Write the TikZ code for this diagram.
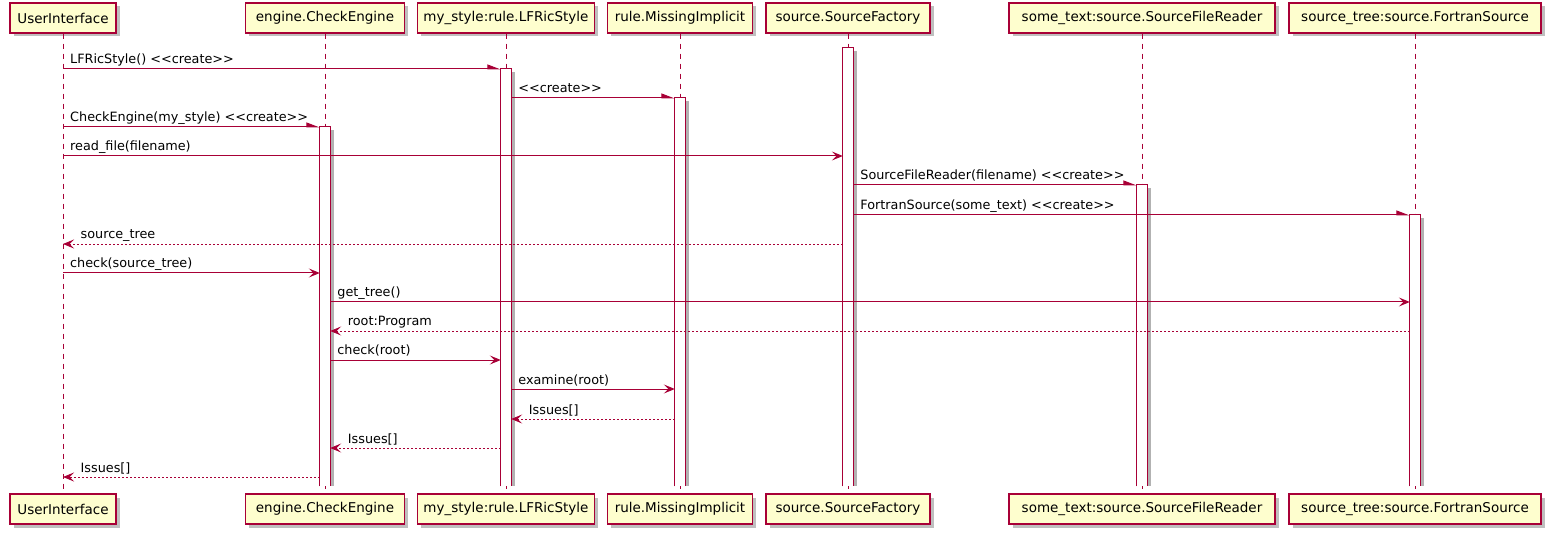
\documentclass[tikz,border=0pt]{standalone}
\usepackage{fontspec}
\setmainfont{DejaVu Sans}[Ligatures=TeXOff]
\usetikzlibrary{shadows,arrows.meta}
\definecolor{umlred}{HTML}{A80036}
\definecolor{umlfill}{HTML}{FEFECE}

\tikzset{
  participant/.style={draw=umlred, fill=umlfill, line width=1.2pt,
    minimum height=30pt, inner sep=0pt,
    font=\fontsize{13.5}{15}\selectfont,
    drop shadow={shadow xshift=3.5pt, shadow yshift=-3.5pt, opacity=.25, fill=black}},
  lifeline/.style={draw=umlred, line width=0.9pt, dash pattern=on 5pt off 5pt},
  actbar/.style={fill=white, draw=none, minimum width=10pt, inner sep=0pt, anchor=north},
  barline/.style={draw=umlred, line width=1pt},
  barshadow/.style={fill=black!30},
  call/.style={draw=umlred, line width=1pt, -{Stealth[length=11pt, width=9pt, inset=4.5pt]}},
  create/.style={draw=umlred, line width=1pt, -{Triangle[length=12pt, width=9pt, harpoon]}},
  reply/.style={draw=umlred, line width=0.9pt, dash pattern=on 2pt off 2pt,
    -{Stealth[length=11pt, width=9pt, inset=4.5pt]}},
  lbl/.style={font=\fontsize{12.8}{14}\selectfont, inner sep=0pt, anchor=base west},
  fwd/.style={lbl, xshift=7pt, yshift=5pt},
  back/.style={lbl, xshift=17.5pt, yshift=5pt}
}

\begin{document}
\begin{tikzpicture}[x=1pt, y=-1pt]
\useasboundingbox (0,0) rectangle (1549,534);

% participant heads and feet
\foreach \id/\x/\w/\txt in {ui/63/106/UserInterface, ce/325/159/engine.CheckEngine,
    ls/506/177/my\_style:rule.LFRicStyle, mi/680/145/rule.MissingImplicit,
    sf/848/164/source.SourceFactory, sfr/1142/266/some\_text:source.SourceFileReader,
    fs/1415/252/source\_tree:source.FortranSource}{
  \node[participant, minimum width=\w pt] (\id T) at (\x,18) {\txt};
  \node[participant, minimum width=\w pt] (\id B) at (\x,509) {\txt};
  \draw[lifeline] (\id T) -- (\id B);
}

% activation bars, open at the bottom
\foreach \id/\x/\top in {ce/325/127, ls/506/69, mi/680/98, sf/848/48, sfr/1142/185, fs/1415/215}{
  \pgfmathsetmacro\barh{486-\top}
  \node[actbar, minimum height=\barh pt] (\id A) at (\x,\top) {};
  \fill[barshadow] ([xshift=0.8pt, yshift=-3pt]\id A.north east) rectangle ([xshift=3.8pt]\id A.south east);
  \draw[barline] (\id A.south west) |- (\id A.north east) -- (\id A.south east);
}

% messages
\draw[create] (uiT |- 0,69) coordinate (m1a) -- (lsA.west |- 0,69);
\node[fwd] (l1) at (m1a) {LFRicStyle() <<create>>};

\draw[create] (lsA.east |- 0,98) coordinate (m2a) -- (miA.west |- 0,98);
\node[fwd] (l2) at (m2a) {<<create>>};

\draw[create] (uiT |- 0,127) coordinate (m3a) -- (ceA.west |- 0,127);
\node[fwd] (l3) at (m3a) {CheckEngine(my\_style) <<create>>};

\draw[call] (uiT |- 0,156) coordinate (m4a) -- (sfA.west |- 0,156);
\node[fwd] (l4) at (m4a) {read\_file(filename)};

\draw[create] (sfA.east |- 0,185) coordinate (m5a) -- (sfrA.west |- 0,185);
\node[fwd] (l5) at (m5a) {SourceFileReader(filename) <<create>>};

\draw[create] (sfA.east |- 0,215) coordinate (m6a) -- (fsA.west |- 0,215);
\node[fwd] (l6) at (m6a) {FortranSource(some\_text) <<create>>};

\draw[reply] (sfA.west |- 0,244) -- (uiT |- 0,244) coordinate (m7b);
\node[back] (l7) at (m7b) {source\_tree};

\draw[call] (uiT |- 0,273) coordinate (m8a) -- (ceA.west |- 0,273);
\node[fwd] (l8) at (m8a) {check(source\_tree)};

\draw[call] (ceA.east |- 0,302) coordinate (m9a) -- (fsA.west |- 0,302);
\node[fwd] (l9) at (m9a) {get\_tree()};

\draw[reply] (fsA.west |- 0,331) -- (ceA.east |- 0,331) coordinate (m10b);
\node[back] (l10) at (m10b) {root:Program};

\draw[call] (ceA.east |- 0,360) coordinate (m11a) -- (lsA.west |- 0,360);
\node[fwd] (l11) at (m11a) {check(root)};

\draw[call] (lsA.east |- 0,389) coordinate (m12a) -- (miA.west |- 0,389);
\node[fwd] (l12) at (m12a) {examine(root)};

\draw[reply] (miA.west |- 0,419) -- (lsA.east |- 0,419) coordinate (m13b);
\node[back] (l13) at (m13b) {Issues[]};

\draw[reply] (lsA.west |- 0,448) -- (ceA.east |- 0,448) coordinate (m14b);
\node[back] (l14) at (m14b) {Issues[]};

\draw[reply] (ceA.west |- 0,477) -- (uiT |- 0,477) coordinate (m15b);
\node[back] (l15) at (m15b) {Issues[]};
\end{tikzpicture}
\end{document}
